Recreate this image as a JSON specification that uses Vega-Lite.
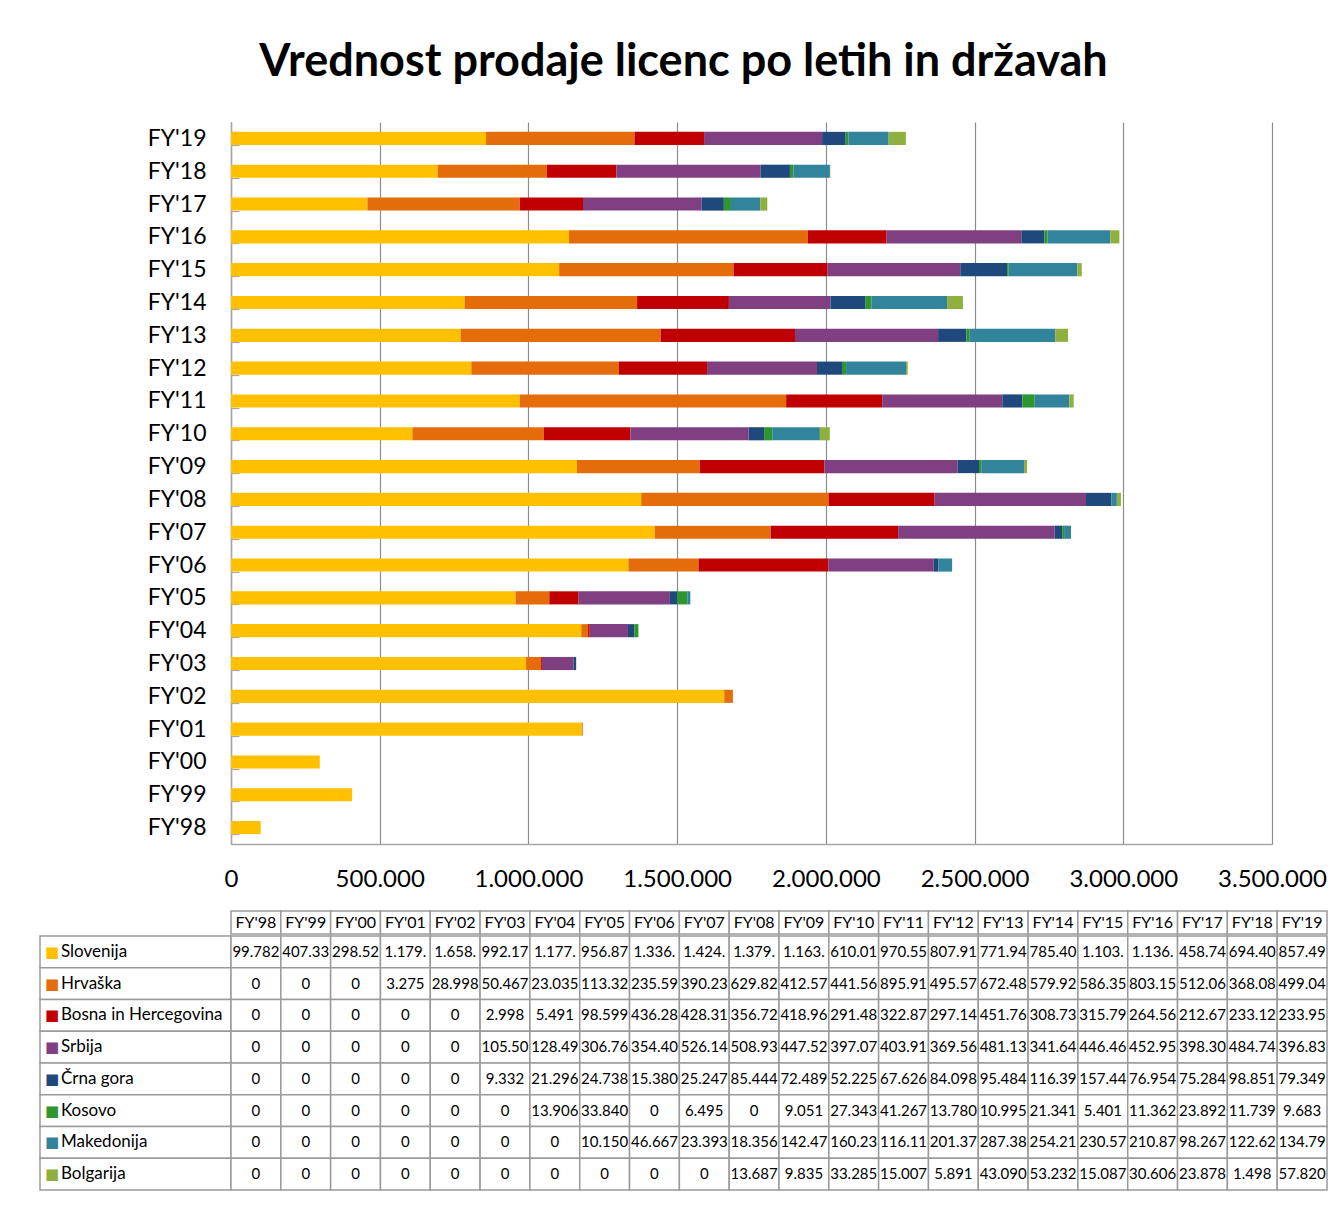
{
 "$schema": "https://vega.github.io/schema/vega-lite/v6.json",
 "padding": {"left": 39, "top": 40, "right": 10, "bottom": 5},
 "title": {"text": "Vrednost prodaje licenc po letih in državah", "fontSize": 45, "font": "Lato", "fontWeight": "bold", "anchor": "middle", "color": "#000", "offset": 26, "baseline": "top"},
 "config": {
   "font": "Lato",
   "view": {"stroke": null},
   "locale": {"number": {"decimal": ",", "thousands": ".", "grouping": [3], "currency": ["", " €"]}}
 },
 "datasets": {
 "series": [{"c":"Slovenija","k":1},{"c":"Hrvaška","k":2},{"c":"Bosna in Hercegovina","k":3},{"c":"Srbija","k":4},{"c":"Črna gora","k":5},{"c":"Kosovo","k":6},{"c":"Makedonija","k":7},{"c":"Bolgarija","k":8}],
 "s": [
  {"y":"FY'98","c":"Slovenija","v":99782},{"y":"FY'99","c":"Slovenija","v":407335},{"y":"FY'00","c":"Slovenija","v":298524},{"y":"FY'01","c":"Slovenija","v":1179350},{"y":"FY'02","c":"Slovenija","v":1658420},{"y":"FY'03","c":"Slovenija","v":992175},{"y":"FY'04","c":"Slovenija","v":1177610},{"y":"FY'05","c":"Slovenija","v":956873},{"y":"FY'06","c":"Slovenija","v":1336240},{"y":"FY'07","c":"Slovenija","v":1424480},{"y":"FY'08","c":"Slovenija","v":1379150},{"y":"FY'09","c":"Slovenija","v":1163290},{"y":"FY'10","c":"Slovenija","v":610012},{"y":"FY'11","c":"Slovenija","v":970551},{"y":"FY'12","c":"Slovenija","v":807915},{"y":"FY'13","c":"Slovenija","v":771946},{"y":"FY'14","c":"Slovenija","v":785403},{"y":"FY'15","c":"Slovenija","v":1103270},{"y":"FY'16","c":"Slovenija","v":1136510},{"y":"FY'17","c":"Slovenija","v":458745},{"y":"FY'18","c":"Slovenija","v":694402},{"y":"FY'19","c":"Slovenija","v":857496},
  {"y":"FY'98","c":"Hrvaška","v":0},{"y":"FY'99","c":"Hrvaška","v":0},{"y":"FY'00","c":"Hrvaška","v":0},{"y":"FY'01","c":"Hrvaška","v":3275},{"y":"FY'02","c":"Hrvaška","v":28998},{"y":"FY'03","c":"Hrvaška","v":50467},{"y":"FY'04","c":"Hrvaška","v":23035},{"y":"FY'05","c":"Hrvaška","v":113325},{"y":"FY'06","c":"Hrvaška","v":235594},{"y":"FY'07","c":"Hrvaška","v":390236},{"y":"FY'08","c":"Hrvaška","v":629823},{"y":"FY'09","c":"Hrvaška","v":412574},{"y":"FY'10","c":"Hrvaška","v":441563},{"y":"FY'11","c":"Hrvaška","v":895912},{"y":"FY'12","c":"Hrvaška","v":495574},{"y":"FY'13","c":"Hrvaška","v":672481},{"y":"FY'14","c":"Hrvaška","v":579925},{"y":"FY'15","c":"Hrvaška","v":586352},{"y":"FY'16","c":"Hrvaška","v":803155},{"y":"FY'17","c":"Hrvaška","v":512063},{"y":"FY'18","c":"Hrvaška","v":368084},{"y":"FY'19","c":"Hrvaška","v":499047},
  {"y":"FY'98","c":"Bosna in Hercegovina","v":0},{"y":"FY'99","c":"Bosna in Hercegovina","v":0},{"y":"FY'00","c":"Bosna in Hercegovina","v":0},{"y":"FY'01","c":"Bosna in Hercegovina","v":0},{"y":"FY'02","c":"Bosna in Hercegovina","v":0},{"y":"FY'03","c":"Bosna in Hercegovina","v":2998},{"y":"FY'04","c":"Bosna in Hercegovina","v":5491},{"y":"FY'05","c":"Bosna in Hercegovina","v":98599},{"y":"FY'06","c":"Bosna in Hercegovina","v":436282},{"y":"FY'07","c":"Bosna in Hercegovina","v":428313},{"y":"FY'08","c":"Bosna in Hercegovina","v":356725},{"y":"FY'09","c":"Bosna in Hercegovina","v":418962},{"y":"FY'10","c":"Bosna in Hercegovina","v":291484},{"y":"FY'11","c":"Bosna in Hercegovina","v":322873},{"y":"FY'12","c":"Bosna in Hercegovina","v":297145},{"y":"FY'13","c":"Bosna in Hercegovina","v":451763},{"y":"FY'14","c":"Bosna in Hercegovina","v":308734},{"y":"FY'15","c":"Bosna in Hercegovina","v":315792},{"y":"FY'16","c":"Bosna in Hercegovina","v":264563},{"y":"FY'17","c":"Bosna in Hercegovina","v":212675},{"y":"FY'18","c":"Bosna in Hercegovina","v":233123},{"y":"FY'19","c":"Bosna in Hercegovina","v":233951},
  {"y":"FY'98","c":"Srbija","v":0},{"y":"FY'99","c":"Srbija","v":0},{"y":"FY'00","c":"Srbija","v":0},{"y":"FY'01","c":"Srbija","v":0},{"y":"FY'02","c":"Srbija","v":0},{"y":"FY'03","c":"Srbija","v":105503},{"y":"FY'04","c":"Srbija","v":128492},{"y":"FY'05","c":"Srbija","v":306763},{"y":"FY'06","c":"Srbija","v":354402},{"y":"FY'07","c":"Srbija","v":526145},{"y":"FY'08","c":"Srbija","v":508934},{"y":"FY'09","c":"Srbija","v":447525},{"y":"FY'10","c":"Srbija","v":397073},{"y":"FY'11","c":"Srbija","v":403914},{"y":"FY'12","c":"Srbija","v":369563},{"y":"FY'13","c":"Srbija","v":481134},{"y":"FY'14","c":"Srbija","v":341645},{"y":"FY'15","c":"Srbija","v":446465},{"y":"FY'16","c":"Srbija","v":452953},{"y":"FY'17","c":"Srbija","v":398305},{"y":"FY'18","c":"Srbija","v":484745},{"y":"FY'19","c":"Srbija","v":396834},
  {"y":"FY'98","c":"Črna gora","v":0},{"y":"FY'99","c":"Črna gora","v":0},{"y":"FY'00","c":"Črna gora","v":0},{"y":"FY'01","c":"Črna gora","v":0},{"y":"FY'02","c":"Črna gora","v":0},{"y":"FY'03","c":"Črna gora","v":9332},{"y":"FY'04","c":"Črna gora","v":21296},{"y":"FY'05","c":"Črna gora","v":24738},{"y":"FY'06","c":"Črna gora","v":15380},{"y":"FY'07","c":"Črna gora","v":25247},{"y":"FY'08","c":"Črna gora","v":85444},{"y":"FY'09","c":"Črna gora","v":72489},{"y":"FY'10","c":"Črna gora","v":52225},{"y":"FY'11","c":"Črna gora","v":67626},{"y":"FY'12","c":"Črna gora","v":84098},{"y":"FY'13","c":"Črna gora","v":95484},{"y":"FY'14","c":"Črna gora","v":116393},{"y":"FY'15","c":"Črna gora","v":157443},{"y":"FY'16","c":"Črna gora","v":76954},{"y":"FY'17","c":"Črna gora","v":75284},{"y":"FY'18","c":"Črna gora","v":98851},{"y":"FY'19","c":"Črna gora","v":79349},
  {"y":"FY'98","c":"Kosovo","v":0},{"y":"FY'99","c":"Kosovo","v":0},{"y":"FY'00","c":"Kosovo","v":0},{"y":"FY'01","c":"Kosovo","v":0},{"y":"FY'02","c":"Kosovo","v":0},{"y":"FY'03","c":"Kosovo","v":0},{"y":"FY'04","c":"Kosovo","v":13906},{"y":"FY'05","c":"Kosovo","v":33840},{"y":"FY'06","c":"Kosovo","v":0},{"y":"FY'07","c":"Kosovo","v":6495},{"y":"FY'08","c":"Kosovo","v":0},{"y":"FY'09","c":"Kosovo","v":9051},{"y":"FY'10","c":"Kosovo","v":27343},{"y":"FY'11","c":"Kosovo","v":41267},{"y":"FY'12","c":"Kosovo","v":13780},{"y":"FY'13","c":"Kosovo","v":10995},{"y":"FY'14","c":"Kosovo","v":21341},{"y":"FY'15","c":"Kosovo","v":5401},{"y":"FY'16","c":"Kosovo","v":11362},{"y":"FY'17","c":"Kosovo","v":23892},{"y":"FY'18","c":"Kosovo","v":11739},{"y":"FY'19","c":"Kosovo","v":9683},
  {"y":"FY'98","c":"Makedonija","v":0},{"y":"FY'99","c":"Makedonija","v":0},{"y":"FY'00","c":"Makedonija","v":0},{"y":"FY'01","c":"Makedonija","v":0},{"y":"FY'02","c":"Makedonija","v":0},{"y":"FY'03","c":"Makedonija","v":0},{"y":"FY'04","c":"Makedonija","v":0},{"y":"FY'05","c":"Makedonija","v":10150},{"y":"FY'06","c":"Makedonija","v":46667},{"y":"FY'07","c":"Makedonija","v":23393},{"y":"FY'08","c":"Makedonija","v":18356},{"y":"FY'09","c":"Makedonija","v":142475},{"y":"FY'10","c":"Makedonija","v":160234},{"y":"FY'11","c":"Makedonija","v":116113},{"y":"FY'12","c":"Makedonija","v":201374},{"y":"FY'13","c":"Makedonija","v":287385},{"y":"FY'14","c":"Makedonija","v":254215},{"y":"FY'15","c":"Makedonija","v":230573},{"y":"FY'16","c":"Makedonija","v":210874},{"y":"FY'17","c":"Makedonija","v":98267},{"y":"FY'18","c":"Makedonija","v":122625},{"y":"FY'19","c":"Makedonija","v":134795},
  {"y":"FY'98","c":"Bolgarija","v":0},{"y":"FY'99","c":"Bolgarija","v":0},{"y":"FY'00","c":"Bolgarija","v":0},{"y":"FY'01","c":"Bolgarija","v":0},{"y":"FY'02","c":"Bolgarija","v":0},{"y":"FY'03","c":"Bolgarija","v":0},{"y":"FY'04","c":"Bolgarija","v":0},{"y":"FY'05","c":"Bolgarija","v":0},{"y":"FY'06","c":"Bolgarija","v":0},{"y":"FY'07","c":"Bolgarija","v":0},{"y":"FY'08","c":"Bolgarija","v":13687},{"y":"FY'09","c":"Bolgarija","v":9835},{"y":"FY'10","c":"Bolgarija","v":33285},{"y":"FY'11","c":"Bolgarija","v":15007},{"y":"FY'12","c":"Bolgarija","v":5891},{"y":"FY'13","c":"Bolgarija","v":43090},{"y":"FY'14","c":"Bolgarija","v":53232},{"y":"FY'15","c":"Bolgarija","v":15087},{"y":"FY'16","c":"Bolgarija","v":30606},{"y":"FY'17","c":"Bolgarija","v":23878},{"y":"FY'18","c":"Bolgarija","v":1498},{"y":"FY'19","c":"Bolgarija","v":57820}
 ]},
 "spacing": 19,
 "vconcat": [
  {
   "spacing": 0,
   "bounds": "flush",
   "hconcat": [
    {"data": {"values": []}, "mark": "rect", "width": 191, "height": 722},
    {
     "data": {"name": "s"},
     "transform": [{"lookup": "c", "from": {"data": {"name": "series"}, "key": "c", "fields": ["k"]}}],
     "width": 1041,
     "height": 722,
     "mark": {"type": "bar"},
     "encoding": {
      "y": {"field": "y", "type": "nominal",
        "sort": ["FY'19","FY'18","FY'17","FY'16","FY'15","FY'14","FY'13","FY'12","FY'11","FY'10","FY'09","FY'08","FY'07","FY'06","FY'05","FY'04","FY'03","FY'02","FY'01","FY'00","FY'99","FY'98"],
        "scale": {"paddingInner": 0.6, "paddingOuter": 0.3},
        "axis": {"title": null, "labelFontSize": 23, "labelColor": "#000", "labelPadding": 33, "domainColor": "#a6a6a6", "domainWidth": 1.5, "tickColor": "#a6a6a6", "tickBand": "extent", "tickSize": -8, "tickWidth": 1.2}},
      "x": {"field": "v", "type": "quantitative", "stack": "zero",
        "scale": {"domain": [0, 3500000], "nice": false},
        "axis": {"title": null, "values": [0, 500000, 1000000, 1500000, 2000000, 2500000, 3000000, 3500000], "format": ",d", "grid": true, "gridColor": "#8c8c8c", "gridWidth": 1.2, "ticks": false, "labelFontSize": 24, "labelColor": "#000", "labelPadding": 23, "domainColor": "#a6a6a6", "domainWidth": 1.5, "labelFlush": false}},
      "order": {"field": "k", "type": "quantitative", "sort": "ascending"},
      "color": {"field": "c", "type": "nominal",
        "scale": {"domain": ["Slovenija","Hrvaška","Bosna in Hercegovina","Srbija","Črna gora","Kosovo","Makedonija","Bolgarija"],
                  "range": ["#FFC000","#E46C0A","#C00000","#7F3F80","#1F497D","#2E962E","#31849B","#8FB03F"]},
        "legend": null}
     }
    }
   ]
  },
  {
   "spacing": 0,
   "vconcat": [
    {
     "spacing": 0,
     "bounds": "flush",
     "hconcat": [
      {"data": {"values": []}, "mark": "rect", "width": 191, "height": 23},
      {
       "data": {"name": "s"},
       "transform": [{"filter": "datum.c == 'Slovenija'"}],
       "width": 1096,
       "height": 23,
       "encoding": {
        "x": {"field": "y", "type": "ordinal",
          "sort": ["FY'98","FY'99","FY'00","FY'01","FY'02","FY'03","FY'04","FY'05","FY'06","FY'07","FY'08","FY'09","FY'10","FY'11","FY'12","FY'13","FY'14","FY'15","FY'16","FY'17","FY'18","FY'19"],
          "scale": {"paddingInner": 0, "paddingOuter": 0}, "axis": null}
       },
       "layer": [
        {"mark": {"type": "rect", "fill": "#ffffff", "stroke": "#9a9a9a", "strokeWidth": 1.5},
         "encoding": {"y": {"datum": 0, "type": "quantitative", "scale": {"domain": [0, 1]}, "axis": null}, "y2": {"datum": 1}}},
        {"mark": {"type": "text", "fontSize": 16, "color": "#000"},
         "encoding": {"text": {"field": "y"}}}
       ]
      }
     ]
    },
    {
     "spacing": 0,
     "bounds": "flush",
     "hconcat": [
      {
       "data": {"name": "s"},
       "transform": [{"filter": "datum.y == \"FY'98\""}],
       "width": 191,
       "height": 254,
       "encoding": {
        "y": {"field": "c", "type": "nominal",
          "sort": ["Slovenija","Hrvaška","Bosna in Hercegovina","Srbija","Črna gora","Kosovo","Makedonija","Bolgarija"],
          "scale": {"paddingInner": 0, "paddingOuter": 0}, "axis": null},
        "x": {"datum": 0, "type": "quantitative", "scale": {"domain": [0, 1]}, "axis": null}
       },
       "layer": [
        {"mark": {"type": "rect", "fill": "#ffffff", "stroke": "#9a9a9a", "strokeWidth": 1.5},
         "encoding": {"x2": {"datum": 1}}},
        {"mark": {"type": "text", "align": "left", "fontSize": 15, "dx": 5, "font": "DejaVu Sans"},
         "encoding": {"text": {"value": "■"},
           "color": {"field": "c", "type": "nominal",
             "scale": {"domain": ["Slovenija","Hrvaška","Bosna in Hercegovina","Srbija","Črna gora","Kosovo","Makedonija","Bolgarija"],
                       "range": ["#FFC000","#E46C0A","#C00000","#7F3F80","#1F497D","#2E962E","#31849B","#8FB03F"]},
             "legend": null}}},
        {"mark": {"type": "text", "align": "left", "fontSize": 17, "dx": 21, "color": "#000"},
         "encoding": {"text": {"field": "c"}}}
       ]
      },
      {
       "data": {"name": "s"},
       "width": 1096,
       "height": 254,
       "encoding": {
        "x": {"field": "y", "type": "ordinal",
          "sort": ["FY'98","FY'99","FY'00","FY'01","FY'02","FY'03","FY'04","FY'05","FY'06","FY'07","FY'08","FY'09","FY'10","FY'11","FY'12","FY'13","FY'14","FY'15","FY'16","FY'17","FY'18","FY'19"],
          "scale": {"paddingInner": 0, "paddingOuter": 0}, "axis": null},
        "y": {"field": "c", "type": "nominal",
          "sort": ["Slovenija","Hrvaška","Bosna in Hercegovina","Srbija","Črna gora","Kosovo","Makedonija","Bolgarija"],
          "scale": {"paddingInner": 0, "paddingOuter": 0}, "axis": null}
       },
       "layer": [
        {"mark": {"type": "rect", "fill": "#ffffff", "stroke": "#9a9a9a", "strokeWidth": 1.5}},
        {"mark": {"type": "text", "fontSize": 15, "color": "#000", "limit": 53, "ellipsis": " "},
         "encoding": {"text": {"field": "v", "type": "quantitative", "format": ",d"}}}
       ]
      }
     ]
    }
   ]
  }
 ]
}
